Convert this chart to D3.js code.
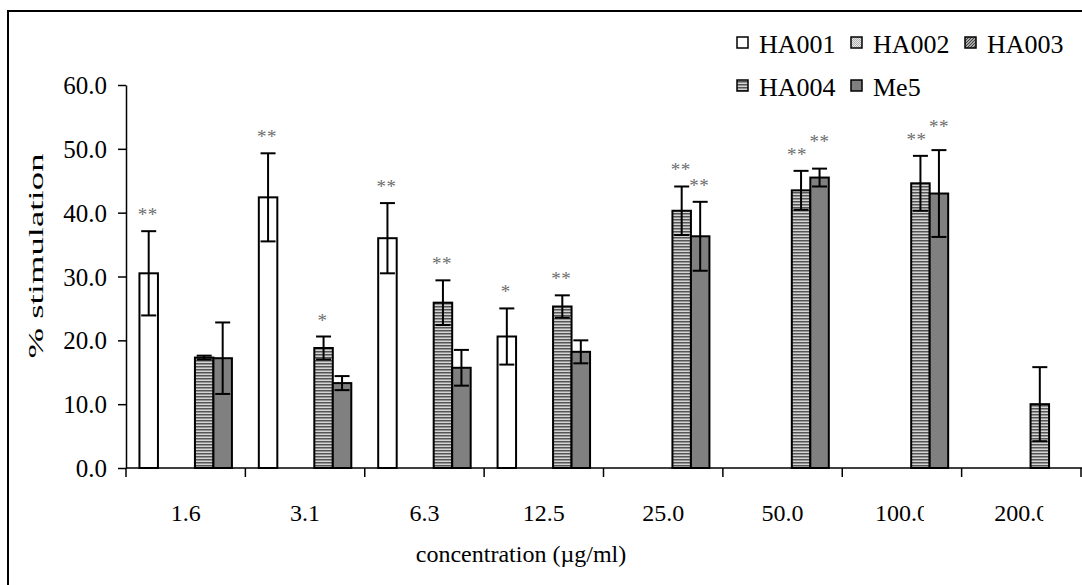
<!DOCTYPE html>
<html>
<head>
<meta charset="utf-8">
<script src="https://cdn.jsdelivr.net/npm/d3@7"></script>
<style>
  html, body { margin: 0; padding: 0; background: #fff; }
  svg { display: block; }
  svg text { font-family: "Liberation Serif", "Times New Roman", Times, serif; fill: #000; }
</style>
</head>
<body>
<svg id="chart" width="1082" height="585" font-family="Liberation Serif"></svg>
<script>
// ---------- data ----------
const categories = ["1.6", "3.1", "6.3", "12.5", "25.0", "50.0", "100.0", "200.0"];
const seriesNames = ["HA001", "HA002", "HA003", "HA004", "Me5"];
const HA001 = [30.5, 42.4, 36.0, 20.6, null, null, null, null];
const HA001err = [6.6, 6.9, 5.5, 4.4, null, null, null, null];
const HA002 = [null, null, null, null, null, null, null, null];
const HA002err = [null, null, null, null, null, null, null, null];
const HA003 = [null, null, null, null, null, null, null, null];
const HA003err = [null, null, null, null, null, null, null, null];
const HA004 = [17.3, 18.8, 25.9, 25.3, 40.3, 43.5, 44.6, 10.0];
const HA004err = [0.3, 1.8, 3.5, 1.75, 3.8, 3.05, 4.3, 5.8];
const Me5 = [17.2, 13.3, 15.7, 18.2, 36.3, 45.5, 43.0, null];
const Me5err = [5.6, 1.1, 2.8, 1.8, 5.4, 1.4, 6.8, null];
const HA001sig = ["**", "**", "**", "*", "", "", "", ""];
const HA004sig = ["", "*", "**", "**", "**", "**", "**", ""];
const Me5sig = ["", "", "", "", "**", "**", "**", ""];
const yTicks = [0, 10, 20, 30, 40, 50, 60];
const yTitle = "% stimulation";
const xTitle = "concentration (\u00b5g/ml)";

// ---------- build ----------
const seriesValues = [HA001, HA002, HA003, HA004, Me5];
const seriesErr = [HA001err, HA002err, HA003err, HA004err, Me5err];
const blank = categories.map(() => "");
const seriesSig = [HA001sig, blank, blank, HA004sig, Me5sig];
const fills = ["#ffffff", "url(#p-ha002)", "url(#p-ha003)", "url(#p-ha004)", "#808080"];
const serif = "Liberation Serif";

const svg = d3.select("#chart");
const defs = svg.append("defs");

// patterns
const p2 = defs.append("pattern").attr("id", "p-ha002").attr("patternUnits", "userSpaceOnUse")
  .attr("width", 2).attr("height", 2);
p2.append("rect").attr("width", 2).attr("height", 2).attr("fill", "#e8e8e8");
p2.append("rect").attr("width", 1).attr("height", 1).attr("fill", "#b0b0b0");
p2.append("rect").attr("x", 1).attr("y", 1).attr("width", 1).attr("height", 1).attr("fill", "#b0b0b0");

const p3 = defs.append("pattern").attr("id", "p-ha003").attr("patternUnits", "userSpaceOnUse")
  .attr("width", 3).attr("height", 3);
p3.append("rect").attr("width", 3).attr("height", 3).attr("fill", "#d8d8d8");
p3.append("path").attr("d", "M-1,1 L1,-1 M0,3 L3,0 M2,4 L4,2").attr("stroke", "#3a3a3a").attr("stroke-width", 1.2);

const p4 = defs.append("pattern").attr("id", "p-ha004").attr("patternUnits", "userSpaceOnUse")
  .attr("width", 4).attr("height", 3);
p4.append("rect").attr("width", 4).attr("height", 3).attr("fill", "#d4d4d4");
p4.append("rect").attr("y", 0).attr("width", 4).attr("height", 1.5).attr("fill", "#555555");

// outer frame (cut at right and bottom)
svg.append("path").attr("d", "M8,585 L8,11 L1082,11")
  .attr("fill", "none").attr("stroke", "#000").attr("stroke-width", 2);

// scales
const x0 = d3.scaleBand().domain(categories).range([126, 1081]).padding(0);
const x1 = d3.scaleBand().domain(seriesNames).range([0, x0.bandwidth()])
  .paddingInner(0).paddingOuter(0.727);
const y = d3.scaleLinear().domain([0, 60]).range([468, 85]);

// bars
const rows = [];
seriesNames.forEach((s, si) => {
  categories.forEach((c, ci) => {
    const v = seriesValues[si][ci];
    if (v != null) rows.push({ s, si, c, ci, v, e: seriesErr[si][ci], sig: seriesSig[si][ci] });
  });
});

svg.append("g").selectAll("rect").data(rows).join("rect")
  .attr("x", d => x0(d.c) + x1(d.s))
  .attr("y", d => y(d.v))
  .attr("width", x1.bandwidth())
  .attr("height", d => y(0) - y(d.v))
  .attr("fill", d => fills[d.si])
  .attr("stroke", "#000").attr("stroke-width", 2);

// error bars
const capW = 15;
const gErr = svg.append("g").attr("stroke", "#000").attr("stroke-width", 2);
rows.filter(d => d.e != null).forEach(d => {
  const cx = x0(d.c) + x1(d.s) + x1.bandwidth() / 2;
  const yt = y(d.v + d.e), yb = y(d.v - d.e);
  gErr.append("line").attr("x1", cx).attr("x2", cx).attr("y1", yt).attr("y2", yb);
  gErr.append("line").attr("x1", cx - capW / 2).attr("x2", cx + capW / 2).attr("y1", yt).attr("y2", yt);
  gErr.append("line").attr("x1", cx - capW / 2).attr("x2", cx + capW / 2).attr("y1", yb).attr("y2", yb);
});

// significance stars: centred above the error bar, pushed up when they collide with a neighbour
const stars = rows.filter(d => d.sig).map(d => ({
  ...d,
  cx: x0(d.c) + x1(d.s) + x1.bandwidth() / 2 - 1,
  cy: y(d.v + d.e) - 19
}));
stars.forEach((st, i) => {
  stars.slice(0, i).forEach(o => {
    if (o.ci === st.ci && Math.abs(o.cx - st.cx) < 22 && Math.abs(o.cy - st.cy) < 13) {
      o.cx -= 3; st.cx += 1;
      st.cy = Math.min(st.cy, o.cy - 13);
    }
  });
});
svg.append("g").selectAll("text").data(stars).join("text")
  .attr("x", d => d.cx)
  .attr("y", d => d.cy + 9)
  .attr("text-anchor", "middle")
  .style("font-size", "19px").style("fill", "#6e6e6e").style("letter-spacing", "0.5px")
  .text(d => d.sig);

// y axis
const yAxis = svg.append("g").attr("transform", "translate(126,0)")
  .call(d3.axisLeft(y).tickValues(yTicks).tickFormat(d3.format(".1f")).tickSize(8).tickSizeOuter(0));
yAxis.attr("font-family", serif);
yAxis.select(".domain").attr("stroke-width", 1.5);
yAxis.selectAll(".tick line").attr("stroke-width", 1.5);
yAxis.selectAll(".tick text").attr("x", -19).attr("dy", "0.34em")
  .style("font-size", "25px");

// x axis
const xAxis = svg.append("g").attr("transform", "translate(0,468)")
  .call(d3.axisBottom(x0).tickSize(0).tickSizeOuter(0));
xAxis.attr("font-family", serif);
xAxis.select(".domain").attr("stroke-width", 1.5).attr("d", "M126,0H1082");
// clip each label at the band's right side like the original (long labels get cut)
xAxis.selectAll(".tick").each(function (d, i) {
  const bw = x0.bandwidth();
  defs.append("clipPath").attr("id", "xclip" + i)
    .append("rect").attr("x", -bw / 2).attr("y", 0).attr("width", bw / 2 + 22).attr("height", 80);
  d3.select(this).select("text").attr("clip-path", `url(#xclip${i})`);
});
xAxis.selectAll(".tick text").attr("y", 0).attr("dy", "53px")
  .style("font-size", "24px");
// boundary tick marks
const bounds = categories.map(c => x0(c)).concat([x0.range()[1]]);
xAxis.append("g").selectAll("line").data(bounds).join("line")
  .attr("x1", d => d).attr("x2", d => d).attr("y1", 0).attr("y2", 9)
  .attr("stroke", "#000").attr("stroke-width", 1.5);

// axis titles
svg.append("text").attr("transform", "translate(43,256) rotate(-90)")
  .attr("text-anchor", "middle").style("font-size", "21px")
  .attr("textLength", 205).attr("lengthAdjust", "spacingAndGlyphs").text(yTitle);
svg.append("text").attr("x", 521).attr("y", 562)
  .attr("text-anchor", "middle").style("font-size", "24px").text(xTitle);

// legend
const legendPos = [
  { name: "HA001", x: 737, y: 53 }, { name: "HA002", x: 851, y: 53 }, { name: "HA003", x: 965, y: 53 },
  { name: "HA004", x: 737, y: 96 }, { name: "Me5", x: 851, y: 96 }
];
const lg = svg.append("g").selectAll("g").data(legendPos).join("g")
  .attr("transform", d => `translate(${d.x},${d.y})`);
lg.append("rect").attr("x", 0).attr("y", -16).attr("width", 11).attr("height", 11)
  .attr("fill", d => fills[seriesNames.indexOf(d.name)]).attr("stroke", "#000").attr("stroke-width", 1.5);
lg.append("text").attr("x", 22).attr("y", 0).style("font-size", "26px").text(d => d.name);
</script>
</body>
</html>
